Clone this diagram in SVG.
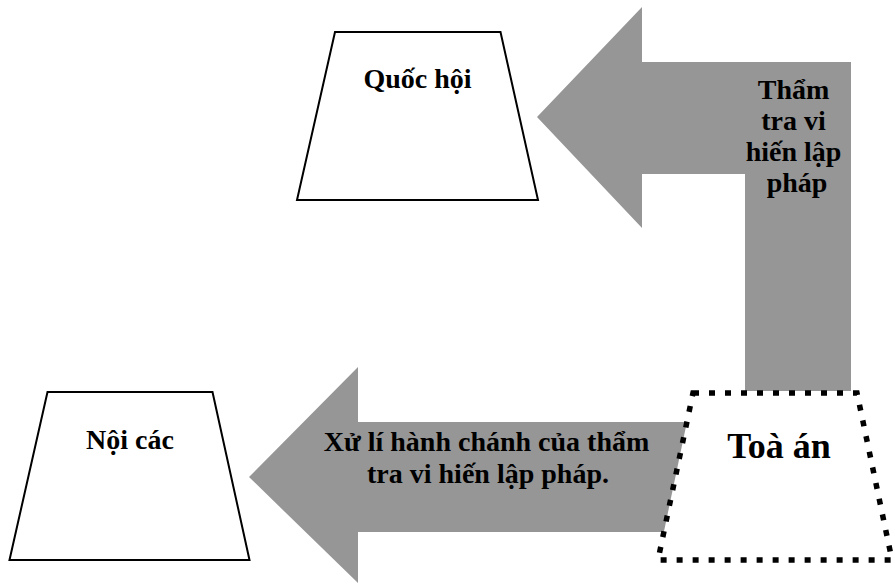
<svg xmlns="http://www.w3.org/2000/svg" width="895" height="584" viewBox="0 0 895 584">
  <style>
    .box { fill: #ffffff; stroke: #000000; stroke-width: 2; }
    .court { fill: #ffffff; stroke: #000000; stroke-width: 5.5; stroke-dasharray: 6 10; }
    .arrow { fill: #969696; stroke: none; }
    .lbl { font-family: "Liberation Serif", "Times New Roman", serif; font-weight: bold; font-size: 28px; fill: #000000; text-anchor: middle; }
    .big { font-size: 36px; }
  </style>

  <g id="connectors">
    <!-- bent arrow: Toà án up and across to Quốc hội -->
    <path class="arrow" d="M 537,117 L 642,7 L 642,62 L 851,62 L 851,391 L 745,391 L 745,174 L 642,174 L 642,228 Z"/>
    <text class="lbl">
      <tspan x="797" y="99">Thẩm</tspan>
      <tspan x="797" y="130">tra vi</tspan>
      <tspan x="797" y="161">hiến lập</tspan>
      <tspan x="797" y="192">pháp</tspan>
    </text>
    <!-- straight arrow: Toà án to Nội các -->
    <path class="arrow" d="M 249,477 L 358,367 L 358,422 L 700,422 L 700,532 L 358,532 L 358,583 Z"/>
    <text class="lbl">
      <tspan x="490" y="451">Xử lí hành chánh của thẩm</tspan>
      <tspan x="488" y="483">tra vi hiến lập pháp.</tspan>
    </text>
  </g>

  <g id="quoc-hoi">
    <polygon class="box" points="335,32 500.5,32 538,200 297,200"/>
    <text class="lbl" x="417.5" y="88">Quốc hội</text>
  </g>

  <g id="noi-cac">
    <polygon class="box" points="47.5,392 212.5,392 249.5,560 9.5,560"/>
    <text class="lbl" x="130" y="449">Nội các</text>
  </g>

  <g id="toa-an">
    <polygon class="court" points="693,393 857,393 892,560 658,560"/>
    <text class="lbl big" x="779" y="458">Toà án</text>
  </g>
</svg>
